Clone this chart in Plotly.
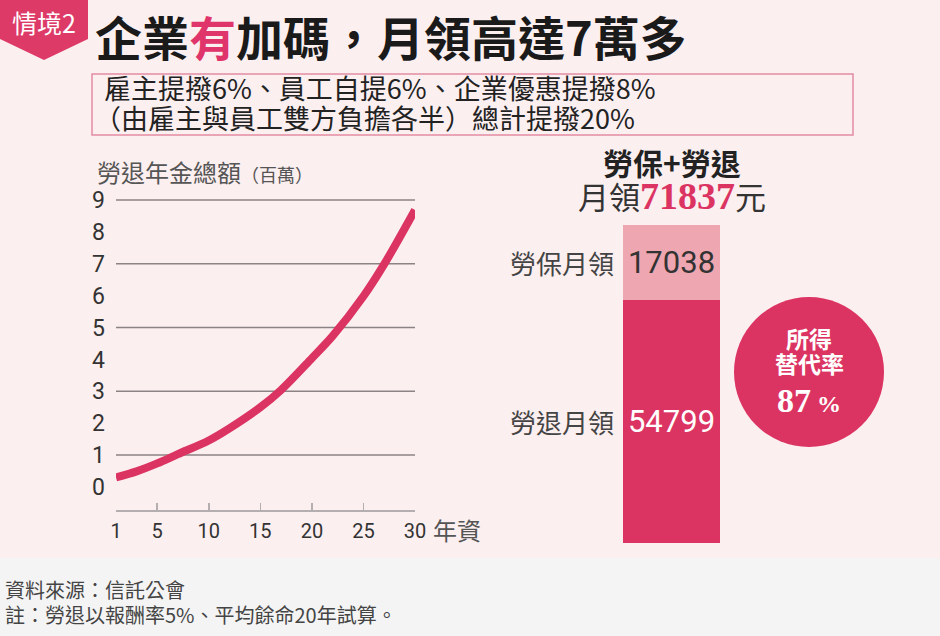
import plotly.graph_objects as go

# ---------------- data ----------------
years = [1, 3, 5, 7, 10, 12, 15, 17, 20, 22, 25, 27, 30]
fund_total = [0.30, 0.49, 0.74, 1.03, 1.46, 1.84, 2.50, 3.04, 4.04, 4.73, 5.98, 6.98, 8.69]  # 勞退年金總額（百萬）
x_tick_vals = [1, 5, 10, 15, 20, 25, 30]
y_tick_vals = [0, 1, 2, 3, 4, 5, 6, 7, 8, 9]
grid_vals = [1, 3, 5, 7, 9]

bar_labels = ["勞退月領", "勞保月領"]
bar_values = [54799, 17038]
replacement_rate = 87

W, H = 940, 636
PINK_BG = "#fbeff0"
RED = "#dc3462"
LIGHT = "#eea6b0"
CJK = "Noto Sans CJK TC"


def px(x):
    return x / W


def py(y):
    return 1 - y / H


fig = go.Figure()

fig.add_trace(go.Scatter(
    x=years, y=fund_total, mode="lines",
    line=dict(color=RED, width=8, shape="spline", smoothing=0.9),
    xaxis="x", yaxis="y", showlegend=False, hoverinfo="skip"))

bar_colors = [RED, LIGHT]
text_colors = ["white", "#333333"]
for lab, val, col, tc in zip(bar_labels, bar_values, bar_colors, text_colors):
    fig.add_trace(go.Bar(
        x=[0], y=[val], width=[1], marker=dict(color=col, line=dict(width=0)),
        text=[str(val)], textposition="inside", insidetextanchor="middle",
        textangle=0, constraintext="none",
        textfont=dict(family="Roboto, " + CJK, size=31, color=tc),
        xaxis="x2", yaxis="y2", showlegend=False, hoverinfo="skip", name=lab))

total = sum(bar_values)

unit = (487 - 200) / 9
y_lo = -(510 - 487) / unit
y_hi = 9.2
top_px = 487 - y_hi * unit

shapes = []
shapes.append(dict(type="rect", xref="paper", yref="paper", x0=0, x1=1,
                   y0=0, y1=py(558), fillcolor="#f5f4f4", line=dict(width=0), layer="below"))
bx = [0, 88, 88, 44, 0]
by = [0, 0, 39, 60, 39]
path = "M " + " L ".join(f"{px(a):.5f},{py(b):.5f}" for a, b in zip(bx, by)) + " Z"
shapes.append(dict(type="path", xref="paper", yref="paper", path=path,
                   fillcolor="#dd3a68", line=dict(width=0)))
shapes.append(dict(type="rect", xref="paper", yref="paper", x0=px(92), x1=px(853),
                   y0=py(135), y1=py(74), line=dict(color="#e38ca2", width=1.5)))
for g in grid_vals:
    shapes.append(dict(type="line", xref="x", yref="y", x0=x_tick_vals[0], x1=x_tick_vals[-1],
                       y0=g, y1=g, line=dict(color="#8c8385", width=1.5), layer="below"))
cx, cy, r = 809, 372, 75
shapes.append(dict(type="circle", xref="paper", yref="paper", x0=px(cx - r), x1=px(cx + r),
                   y0=py(cy + r), y1=py(cy - r), fillcolor=RED, line=dict(width=0)))

ann = []


def add_text(text, x, y, size, color="#222222", xanchor="left", family=CJK):
    ann.append(dict(text=text, x=px(x), y=py(y), xref="paper", yref="paper",
                    xanchor=xanchor, yanchor="middle", showarrow=False,
                    font=dict(family=family, size=size, color=color)))


add_text("情境2", 44, 22, 25, "white", "center")
add_text("<b>企業<span style='color:#e0356a'>有</span>加碼，月領高達7萬多</b>", 93, 35, 47, "#1a1a1a")
add_text("雇主提撥6%、員工自提6%、企業優惠提撥8%", 102, 87, 27, "#222222")
add_text("（由雇主與員工雙方負擔各半）總計提撥20%", 92, 118, 27, "#222222")
add_text("勞退年金總額<span style='font-size:18px'>（百萬）</span>", 95, 171, 24, "#555555")
add_text("年資", 431, 529, 24, "#555555")
add_text("<b>勞保+勞退</b>", 672, 162, 30, "#222222", "center")
add_text("月領<span style='font-family:Liberation Serif;font-weight:bold;font-size:38px;color:#dc3462'>"
         + str(total) + "</span>元", 672, 196, 31, "#333333", "center")
for lab, yv in [(bar_labels[0], bar_values[0] / 2), (bar_labels[1], bar_values[0] + bar_values[1] / 2)]:
    ann.append(dict(text=lab, x=px(616), y=yv, xref="paper", yref="y2", xanchor="right",
                    yanchor="middle", showarrow=False,
                    font=dict(family=CJK, size=26, color="#444444")))
add_text("<b>所得</b>", cx, 338, 23, "white", "center")
add_text("<b>替代率</b>", cx, 363, 23, "white", "center")
add_text(f"<b>{replacement_rate}</b><span style='font-size:24px'><b> %</b></span>", cx, 400, 34,
         "white", "center", family="Liberation Serif")
add_text("資料來源：信託公會", 3, 589, 20, "#444444")
add_text("註：勞退以報酬率5%、平均餘命20年試算。", 3, 614, 20, "#444444")

fig.update_layout(
    autosize=True, margin=dict(l=0, r=0, t=0, b=0, autoexpand=False),
    paper_bgcolor=PINK_BG, plot_bgcolor="rgba(0,0,0,0)",
    shapes=shapes, annotations=ann, barmode="stack", bargap=0,
    xaxis=dict(domain=[px(116), px(415)], range=[1, 30], tickvals=x_tick_vals,
               showgrid=False, zeroline=False, showline=True, linecolor="#b5aeb0", linewidth=1.5,
               ticks="inside", ticklen=7, tickcolor="#b5aeb0", tickwidth=1.5,
               tickfont=dict(family="Roboto", size=20, color="#333333"), ticklabelstandoff=2,
               fixedrange=True),
    yaxis=dict(domain=[py(510), py(top_px)], range=[y_lo, y_hi], tickvals=y_tick_vals,
               showgrid=False, zeroline=False, showline=False, ticks="",
               tickfont=dict(family="Roboto", size=23, color="#333333"), ticklabelstandoff=10,
               fixedrange=True),
    xaxis2=dict(domain=[px(623), px(720)], range=[-0.5, 0.5], visible=False, anchor="y2"),
    yaxis2=dict(domain=[py(543.3), py(225)], range=[0, total], visible=False, anchor="x2"),
)

style_js = ("var s=document.createElement('style');"
            "s.innerHTML='html,body{margin:0 !important;padding:0 !important;overflow:hidden !important;"
            "width:100%;height:100%}';"
            "document.head.appendChild(s);"
            "var gd=document.getElementById('{plot_id}');"
            "gd.style.width='100vw';gd.style.height='100vh';"
            "Plotly.Plots.resize(gd);")

fig.write_html(
    "out.html",
    default_width="100vw", default_height="100vh",
    config={"displayModeBar": False, "staticPlot": True, "responsive": True},
    post_script=style_js,
)
